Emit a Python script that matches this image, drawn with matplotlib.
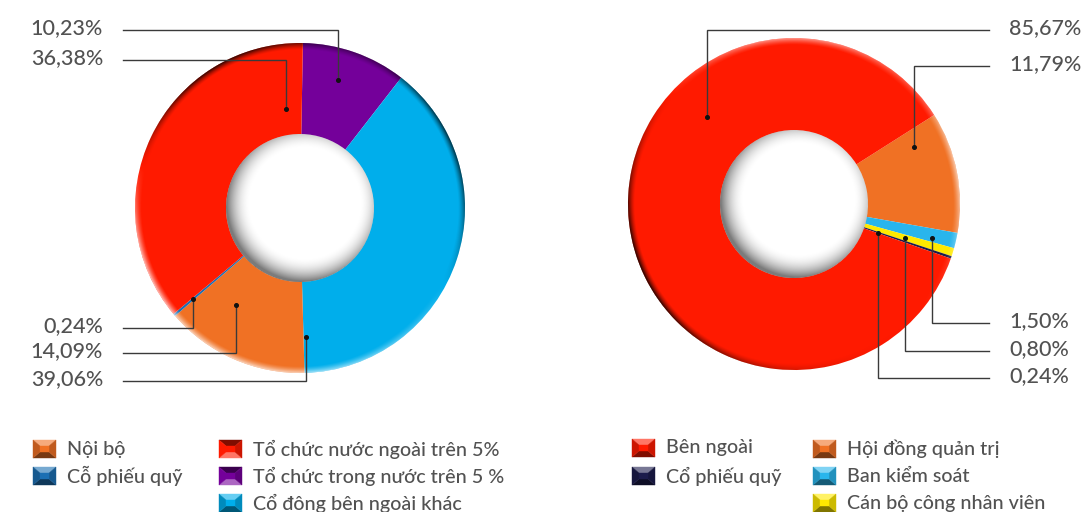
import numpy as np
import matplotlib
matplotlib.use("Agg")
import matplotlib.pyplot as plt
from matplotlib.patches import Polygon
from matplotlib.colors import to_rgb

plt.rcParams["font.family"] = ["Lato", "DejaVu Sans"]

W, H = 1084, 512

# left donut: shareholders by group (%)
left_names = ["Tổ chức trong nước trên 5 %", "Cổ đông bên ngoài khác", "Nội bộ",
              "Cỗ phiếu quỹ", "Tổ chức nước ngoài trên 5%"]
left_values = [10.23, 39.06, 14.09, 0.24, 36.38]
left_colors = ["#74009a", "#00aeeb", "#f07124", "#1b6fb3", "#ff1a00"]

# right donut: shareholders by holder type (%)
right_names = ["Hội đồng quản trị", "Ban kiểm soát", "Cán bộ công nhân viên",
               "Cổ phiếu quỹ", "Bên ngoài"]
right_values = [11.79, 1.50, 0.80, 0.24, 85.67]
right_colors = ["#f07124", "#29b5ec", "#ffe900", "#1c1c4c", "#ff1a00"]

TXT = "#525252"


def py(y):
    # pixel row (from top) -> data y
    return H - y


def pct(v):
    return f"{v:.2f}%".replace(".", ",")


fig = plt.figure(figsize=(W / 100, H / 100), dpi=100)
ax = fig.add_axes([0, 0, 1, 1])

donuts = [
    # center, outer r, inner r, start angle (clockwise from 12 o'clock)
    dict(vals=left_values, cols=left_colors, c=(300, py(208)), R=165, r=74, start=1.0,
         bevel=[(-0.85, 330, 28), (-0.75, 65, 30), (0.7, 195, 45), (0.4, 255, 20)]),
    dict(vals=right_values, cols=right_colors, c=(794, py(204)), R=166, r=74, start=57.6,
         bevel=[(-0.9, 245, 35), (0.55, 0, 30), (0.6, 80, 18)]),
]

for d in donuts:
    ax.pie(d["vals"], colors=d["cols"], radius=d["R"], center=d["c"],
           startangle=90 - d["start"], counterclock=False,
           wedgeprops=dict(width=d["R"] - d["r"], linewidth=0, antialiased=True))

# bevelled rim and sunken hole shading
yy, xx = np.mgrid[0:H, 0:W] + 0.5
rgba = np.zeros((H, W, 4))
for d in donuts:
    cx, cy = d["c"]
    dist = np.hypot(xx - cx, yy - cy)
    th = np.degrees(np.arctan2(xx - cx, yy - cy)) % 360
    s = np.zeros_like(dist)
    for amp, mu, sig in d["bevel"]:
        dd = (th - mu + 180) % 360 - 180
        s += amp * np.exp(-0.5 * (dd / sig) ** 2)
    bw = 7.0
    band = np.clip((dist - (d["R"] - bw)) / bw, 0, 1) ** 1.4
    inside = np.clip(d["R"] - dist + 0.5, 0, 1)
    a = np.clip(np.abs(s), 0, 1) * band * inside
    m = a > 0
    rgba[m, :3] = np.where(s[m] > 0, 1.0, 0.0)[:, None]
    rgba[m, 3] = a[m]
    d2 = np.hypot(xx - (cx + 5), yy - (cy + 5))
    hole = np.clip(d["r"] - dist + 0.5, 0, 1)
    dark = 0.52 * np.clip((d2 - (d["r"] - 20)) / 24, 0, 1) ** 2 * hole
    mh = hole > 0
    rgba[mh, :3] = 0.0
    rgba[mh, 3] = dark[mh]
ax.imshow(rgba, extent=(0, W, 0, H), origin="lower", interpolation="bilinear", zorder=3)

# leader lines: (slice index, row y, anchor angle, anchor radius)
left_leaders = [(0, 30, 16.5, 133), (4, 60, 352, 100), (3, 328, 229.6, 140),
                (2, 353, 213.4, 116), (1, 381, 177.3, 129)]
right_leaders = [(4, 30, 315, 123), (0, 66, 64.6, 133), (1, 323, 103.8, 142),
                 (2, 351, 107.2, 116), (3, 378, 108.7, 89)]


def leaders(d, items, x_end, x_text, ha):
    cx, cy = d["c"]
    for i, y, ang, rad in items:
        t = np.radians(ang)
        axx, ayy = cx + rad * np.sin(t), cy + rad * np.cos(t)
        ax.plot([x_end, axx, axx], [py(y), py(y), ayy], color="#3a3a3a", lw=1.0,
                solid_joinstyle="miter", zorder=4)
        ax.plot([axx], [ayy], "o", color="#111111", ms=2.6, zorder=5)
        ax.text(x_text, py(y - 1.5), pct(d["vals"][i]), ha=ha, va="center",
                fontsize=15.5, fontweight="medium", color=TXT, zorder=5)


leaders(donuts[0], left_leaders, 123, 103, "right")
leaders(donuts[1], right_leaders, 989, 1009, "left")


def bevel_key(x, y, color, flip=False, w=23, h=18, ix=7, iy=6):
    base = np.array(to_rgb(color))
    light = base + (1 - base) * 0.4
    dark = base * 0.5
    mid = base * 0.8
    top, bot = (dark, light) if flip else (light, dark)
    x0, x1, y0, y1 = x, x + w, py(y + h), py(y)
    a0, a1, b0, b1 = x0 + ix, x1 - ix, y0 + iy, y1 - iy
    faces = [([(x0, y1), (x1, y1), (a1, b1), (a0, b1)], top),
             ([(x0, y0), (x1, y0), (a1, b0), (a0, b0)], bot),
             ([(x0, y0), (x0, y1), (a0, b1), (a0, b0)], mid if not flip else base),
             ([(x1, y0), (x1, y1), (a1, b1), (a1, b0)], mid),
             ([(a0, b0), (a1, b0), (a1, b1), (a0, b1)], base)]
    for pts, c in faces:
        ax.add_patch(Polygon(pts, closed=True, facecolor=c, edgecolor=c, lw=0.3, zorder=4))


# legend rows: (label, colour, flipped bevel, key x, row y)
legend_rows = [
    ("Nội bộ", left_colors[2], False, 33, 440),
    ("Cỗ phiếu quỹ", left_colors[3], False, 33, 467),
    ("Tổ chức nước ngoài trên 5%", left_colors[4], True, 219, 440),
    ("Tổ chức trong nước trên 5 %", left_colors[0], True, 219, 467),
    ("Cổ đông bên ngoài khác", left_colors[1], False, 219, 494),
    ("Bên ngoài", right_colors[4], False, 632, 439),
    ("Cổ phiếu quỹ", right_colors[3], False, 632, 467),
    ("Hội đồng quản trị", right_colors[0], False, 813, 440),
    ("Ban kiểm soát", right_colors[1], False, 813, 467),
    ("Cán bộ công nhân viên", right_colors[2], False, 813, 494),
]
for name, col, flip, kx, ky in legend_rows:
    bevel_key(kx, ky, col, flip)
    ax.text(kx + 34, py(ky + 9), name, ha="left", va="center", fontsize=14.2,
            fontweight="medium", color=TXT, zorder=5)

ax.set_xlim(0, W)
ax.set_ylim(0, H)
ax.set_aspect("equal")
ax.axis("off")
fig.savefig("out.png", dpi=100, facecolor="white")
